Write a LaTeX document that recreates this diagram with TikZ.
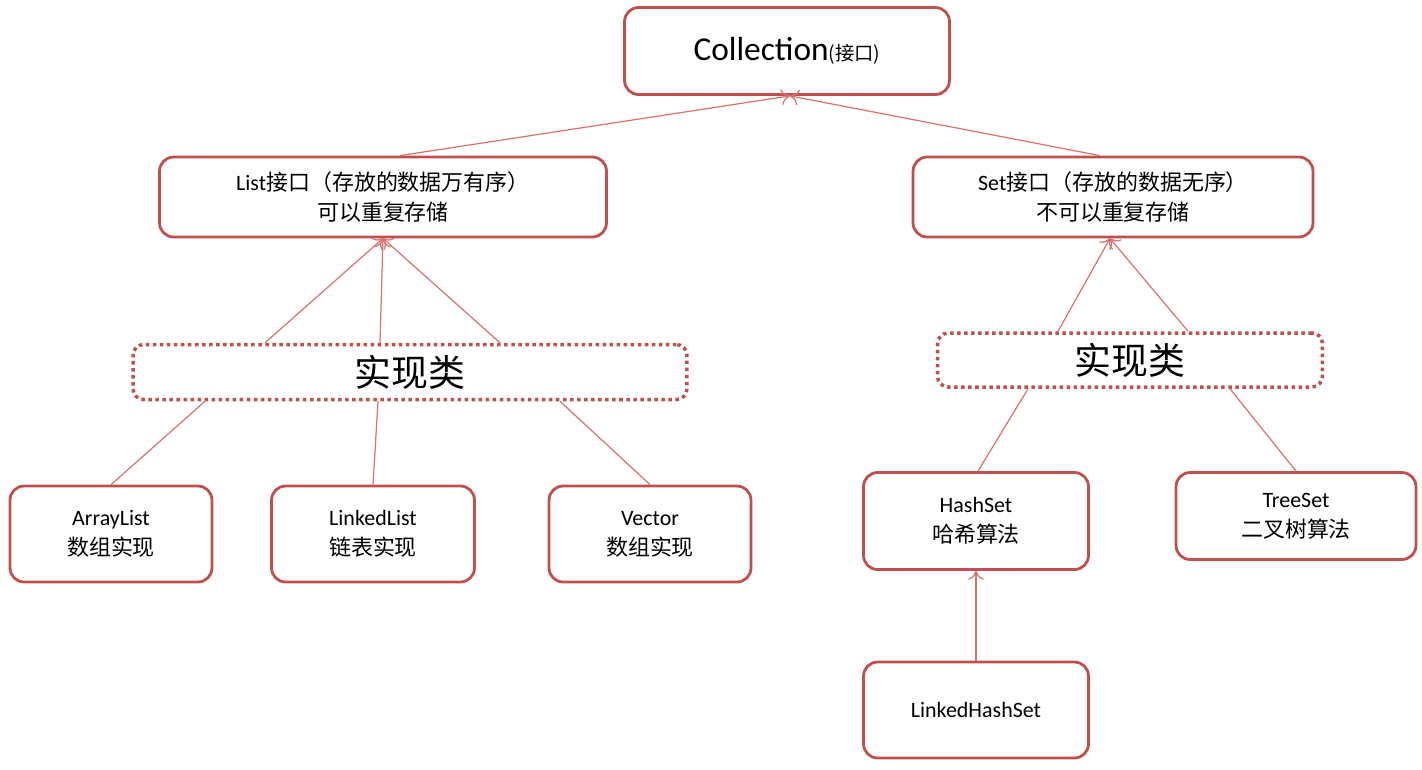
\documentclass[tikz,border=0pt]{standalone}
\usepackage{fontspec}
\setmainfont{Carlito}
\newfontfamily\cjk{Noto Sans CJK SC}
\usepackage{tikz}
\usetikzlibrary{arrows.meta}
\definecolor{boxred}{HTML}{C0504D}
\definecolor{linered}{HTML}{D9736F}

\begin{document}
\begin{tikzpicture}[
		x=0.02cm, y=-0.02cm,
		every node/.style={align=center, font=\fontsize{12.5}{17}\selectfont},
		box/.style={draw=boxred, line width=1.6pt, rounded corners=8pt, inner sep=0pt},
		impl/.style={draw=boxred, line width=2pt, dotted, rounded corners=6pt, inner sep=0pt, font=\fontsize{21}{24}\selectfont\cjk},
		link/.style={draw=linered, line width=0.7pt},
		up/.style={link, -{To[length=5pt,width=9pt]}}
	]
  \useasboundingbox (0,0) rectangle (1422,769);
  \node (coll) [box, minimum width=6.5cm, minimum height=1.74cm] at (787,51) {{\fontsize{19}{22}\selectfont Collection}{\cjk\fontsize{11}{13}\selectfont (接口)}};
  \node (list) [box, minimum width=8.94cm, minimum height=1.6cm] at (383,197) {List{\cjk 接口（存放的数据万有序）}\\{\cjk 可以重复存储}};
  \node (set) [box, minimum width=8cm, minimum height=1.6cm] at (1113,197) {Set{\cjk 接口（存放的数据无序）}\\{\cjk 不可以重复存储}};
  \node (impll) [impl, minimum width=11.08cm, minimum height=1.1cm] at (410,372) {实现类};
  \node (implr) [impl, minimum width=7.7cm, minimum height=1.08cm] at (1130,360) {实现类};
  \node (array) [box, minimum width=4.04cm, minimum height=1.92cm] at (111,534) {ArrayList\\{\cjk 数组实现}};
  \node (linked) [box, minimum width=4.06cm, minimum height=1.92cm] at (373,534) {LinkedList\\{\cjk 链表实现}};
  \node (vector) [box, minimum width=4.04cm, minimum height=1.92cm] at (650,534) {Vector\\{\cjk 数组实现}};
  \node (hash) [box, minimum width=4.5cm, minimum height=1.94cm] at (976,521) {HashSet\\{\cjk 哈希算法}};
  \node (tree) [box, minimum width=4.8cm, minimum height=1.74cm] at (1296,516) {TreeSet\\{\cjk 二叉树算法}};
  \node (lhash) [box, minimum width=4.5cm, minimum height=1.92cm] at (976,710) {LinkedHashSet};
  % interfaces
  \draw [up] ([xshift=0.34cm]list.north) -- ([xshift=0.06cm]coll.south);
  \draw [up] ([xshift=-0.26cm]set.north) -- ([xshift=0.06cm]coll.south);
  % implementations
  \draw [up] ([xshift=-2.9cm]impll.north) -- (list.south);
  \draw [up] ([xshift=-0.6cm]impll.north) -- (list.south);
  \draw [up] ([xshift=1.8cm]impll.north) -- (list.south);
  \draw [up] ([xshift=-1.44cm]implr.north) -- ([xshift=-0.06cm]set.south);
  \draw [up] ([xshift=1.16cm]implr.north) -- ([xshift=-0.06cm]set.south);
  \draw [link] ([xshift=-4.1cm]impll.south) -- (array.north);
  \draw [link] ([xshift=-0.64cm]impll.south) -- (linked.north);
  \draw [link] ([xshift=3cm]impll.south) -- (vector.north);
  \draw [link] ([xshift=-2.04cm]implr.south) -- ([xshift=0.04cm]hash.north);
  \draw [link] ([xshift=2cm]implr.south) -- (tree.north);
  \draw [up] (lhash.north) -- (hash.south);
\end{tikzpicture}
\end{document}
